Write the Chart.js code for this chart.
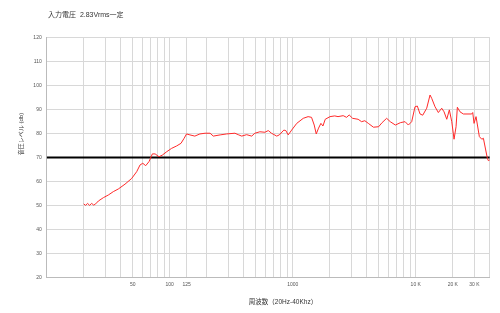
<html>
<head>
<script src="https://cdn.jsdelivr.net/npm/chart.js@4/dist/chart.umd.min.js"></script>
<style>
  body { margin: 0; background: #fff; }
  #wrap { width: 500px; height: 313px; }
</style>
</head>
<body>
<div id="wrap"><canvas id="fr"></canvas></div>
<script>
var freqs = [20, 20.7, 21.5, 22.3, 23.2, 24.1, 25, 26.3, 28.9, 31.7, 34.8, 38.2, 43.3, 49.1, 53.9,
  57.4, 60.4, 63.8, 67.9, 72.3, 76.1, 81.9, 87.1, 94.5, 103.6, 113.8, 123.5, 131, 137, 146, 160,
  176, 194, 213, 226, 257, 290, 339, 364, 385, 422, 464, 492, 541, 594, 633, 672, 741, 778, 847,
  879, 919, 980, 1078, 1218, 1334, 1422, 1495, 1553, 1621, 1695, 1760, 1838, 2010, 2195, 2334,
  2572, 2740, 2877, 3066, 3400, 3629, 3855, 4115, 4532, 4990, 5325, 5800, 6205, 6830, 7510, 8190,
  8710, 9270, 9865, 10300, 10840, 11400, 12280, 13070, 13490, 14350, 15270, 16260, 16990, 17870,
  18760, 19630, 20480, 21270, 21790, 22910, 24380, 28520, 29060, 29790, 30920, 32890, 34430,
  35480, 38200, 38920, 40000];
var levels = [50.7, 50.1, 50.9, 50.1, 50.9, 50.2, 50.7, 51.9, 53.3, 54.4, 55.8, 56.9, 58.9, 61.3, 64.1,
  66.9, 67.6, 66.6, 68.3, 71.5, 71.5, 70.3, 71.0, 72.4, 73.8, 74.8, 75.9, 78.0, 79.8, 79.4, 78.9,
  79.8, 80.1, 80.1, 78.9, 79.4, 79.8, 80.1, 79.4, 78.9, 79.5, 78.9, 80.1, 80.7, 80.5, 81.2, 80.1, 78.9, 79.4, 81.4,
  81.2, 79.4, 81.4, 84.2, 86.3, 87.0, 86.7, 83.5, 79.8, 82.2, 84.2, 83.1, 85.9, 87.0, 87.3, 87.0,
  87.4, 86.7, 87.7, 86.3, 85.9, 84.9, 85.3, 84.2, 82.6, 82.8, 84.5, 86.3, 84.9, 83.5, 84.5, 84.9,
  83.5, 84.9, 91.1, 91.4, 88.1, 87.6, 90.5, 96.0, 94.6, 91.1, 88.7, 90.5, 89.0, 85.9,
  89.8, 84.9, 77.6, 82.8, 90.9, 89.0, 88.1, 88.1, 88.7, 84.2, 87.0, 78.7, 77.6,
  78.0, 69.7, 68.7, 69.0];

var refLevel = 70;
var xMin = 10, xMax = 40000;

var gridFreqs = [10, 20, 30, 40, 50, 60, 70, 80, 90, 100, 137.5, 200, 300, 400, 500, 600, 700, 800, 900,
  1000, 2000, 3000, 4000, 5000, 6000, 7000, 8000, 9000, 10000, 20000, 30000, 40000];
var labelFreqs = [50, 100, 137.5, 1000, 10000, 20000, 30000];
var labelTexts = ['50', '100', '125', '1000', '10 K', '20 K', '30 K'];

var titleText = '入力電圧  2.83Vrms一定';
var xTitle = '周波数（20Hz-40Khz）';
var yTitle = '音圧レベル (db)';

var fam = '"Liberation Sans", "Noto Sans CJK JP", sans-serif';

var points = freqs.map(function (f, i) { return { x: f, y: levels[i] }; });

var textPlugin = {
  id: 'texts',
  afterDraw: function (chart) {
    var c = chart.ctx;
    c.save();
    c.fillStyle = '#333';
    c.font = '7px ' + fam;
    c.textAlign = 'left';
    c.textBaseline = 'middle';
    c.fillText(titleText, 48, 15);
    c.font = '6.5px ' + fam;
    c.textAlign = 'center';
    c.fillText(xTitle, 283, 302);
    c.translate(21, 134);
    c.rotate(-Math.PI / 2);
    c.font = '6px ' + fam;
    c.fillText(yTitle, 0, 0);
    c.restore();
  }
};

new Chart(document.getElementById('fr'), {
  type: 'scatter',
  data: {
    datasets: [{
      data: points,
      showLine: true,
      borderColor: '#ff2a2a',
      borderWidth: 1,
      pointRadius: 0,
      tension: 0
    }, {
      data: [{ x: xMin, y: refLevel }, { x: xMax, y: refLevel }],
      showLine: true,
      borderColor: '#000',
      borderWidth: 1.8,
      pointRadius: 0
    }]
  },
  options: {
    responsive: true,
    maintainAspectRatio: false,
    animation: false,
    layout: { padding: { left: 0, right: 10.2, top: 37.3, bottom: 0 } },
    plugins: { legend: { display: false }, tooltip: { enabled: false } },
    scales: {
      x: {
        type: 'logarithmic',
        min: xMin,
        max: xMax,
        afterBuildTicks: function (s) {
          s.ticks = gridFreqs.map(function (v) { return { value: v }; });
        },
        afterFit: function (s) { s.height = 35.3; },
        grid: { color: '#d8d8d8', lineWidth: 1, drawTicks: false },
        border: { color: '#bbb' },
        ticks: {
          autoSkip: false,
          maxRotation: 0,
          padding: 4,
          color: '#555',
          font: { size: 5, family: fam },
          callback: function (v) {
            var k = labelFreqs.indexOf(v);
            return k < 0 ? '' : labelTexts[k];
          }
        }
      },
      y: {
        min: 20,
        max: 120,
        afterFit: function (s) { s.width = 46.7; },
        grid: { color: '#d8d8d8', lineWidth: 1, drawTicks: false },
        border: { color: '#bbb' },
        ticks: {
          stepSize: 10,
          padding: 5,
          color: '#555',
          font: { size: 5, family: fam }
        }
      }
    }
  },
  plugins: [textPlugin]
});
</script>
</body>
</html>
